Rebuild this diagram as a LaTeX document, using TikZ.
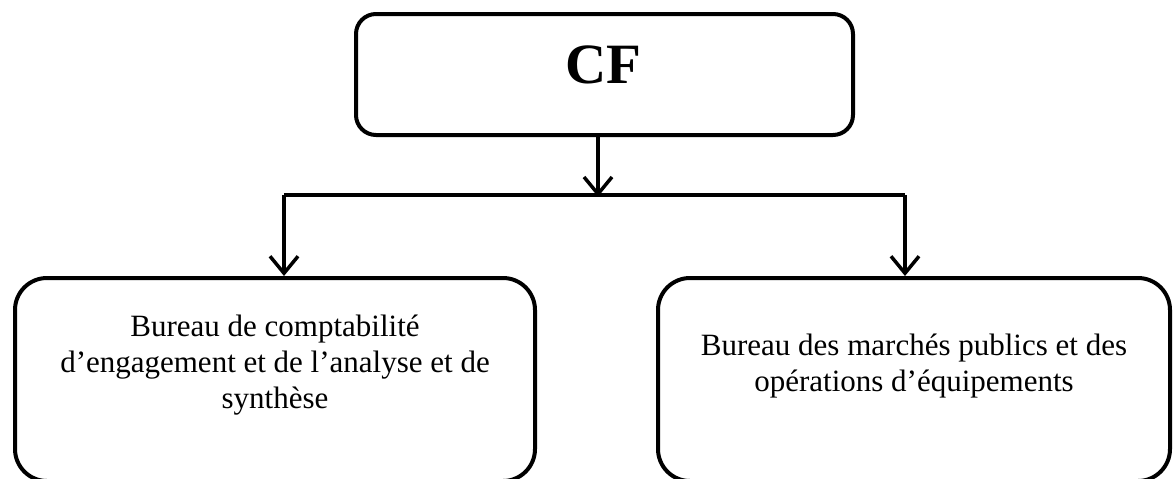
\documentclass[tikz,border=0pt]{standalone}
\usepackage{fontspec}
\setmainfont{Liberation Serif}
\usetikzlibrary{arrows.meta}

\tikzset{
  box/.style={draw=black, line width=4pt, inner sep=0pt},
  topbox/.style={box, rounded corners=20pt, minimum width=497pt, minimum height=121pt},
  unitbox/.style={box, rounded corners=32pt, minimum height=203pt},
  bodytext/.style={align=center, inner sep=0pt, font=\fontsize{31}{36}\selectfont},
  link/.style={line width=3.5pt, black},
  arrowlink/.style={link, -{Straight Barb[length=17pt, width=28pt, line width=3.5pt]}}
}

\begin{document}
\begin{tikzpicture}[x=1pt, y=-1pt]
  \useasboundingbox (0,0) rectangle (1173,479);

  % head of the organisation
  \node[topbox] (cf) at (604.5,74.5) {};
  \node[inner sep=0pt, anchor=base, font=\fontsize{57}{62}\selectfont\bfseries] (cftext) at (603,83) {CF};

  % the two offices
  \node[unitbox, minimum width=520pt] (compta) at (275,379.5) {};
  \node[unitbox, minimum width=512pt] (marches) at (914,379.5) {};

  \node[bodytext] (comptatext) at (275,365)
    {Bureau de comptabilité\\d’engagement et de l’analyse et de\\synthèse};
  \node[bodytext] (marchestext) at (914,366)
    {Bureau des marchés publics et des\\opérations d’équipements};

  % branching points of the connectors
  \coordinate (split) at (598,195);
  \coordinate (jl) at (284,195);
  \coordinate (jr) at (905,195);

  \draw[arrowlink] (cf.south -| split) -- ([yshift=-1.75pt]split);
  \draw[link] (jl) -- (jr);
  \draw[arrowlink] (jl) -- (compta.north -| jl);
  \draw[arrowlink] (jr) -- (marches.north -| jr);
\end{tikzpicture}
\end{document}
